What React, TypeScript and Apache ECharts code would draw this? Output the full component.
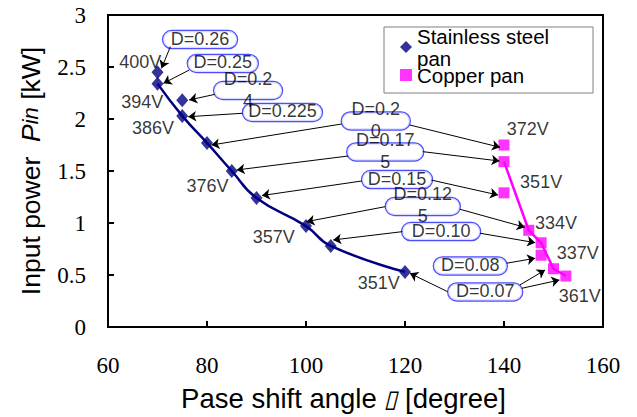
import React, { useEffect, useRef } from "react";
import * as echarts from "echarts";

// ---- data ----
const stainlessAngle = [70, 70, 75, 75, 80, 85, 90, 100, 105, 120];
const stainlessPower = [2.45, 2.34, 2.18, 2.03, 1.77, 1.5, 1.24, 0.97, 0.78, 0.53];
const stainlessCurveIdx = [1, 3, 4, 5, 6, 7, 8, 9];

const copperAngle = [140, 140, 140, 145, 147.5, 147.5, 150, 152.5];
const copperPower = [1.75, 1.59, 1.29, 0.93, 0.81, 0.69, 0.56, 0.49];
const copperCurveIdx = [1, 3, 4, 6, 7];

const voltageText = ["400V", "394V", "386V", "376V", "357V", "351V", "372V", "351V", "334V", "337V", "361V"];
const voltageAngle = [66.5, 66.9, 69.1, 80.1, 93.5, 114.7, 144.8, 147.5, 150.5, 154.9, 155.3];
const voltagePower = [2.548, 2.163, 1.913, 1.356, 0.865, 0.423, 1.904, 1.394, 1.0, 0.712, 0.298];

const dutyText = ["D=0.26", "D=0.25", "D=0.2\n4", "D=0.225", "D=0.2\n0", "D=0.17\n5", "D=0.15", "D=0.12\n5", "D=0.10", "D=0.08", "D=0.07"];
const dutyAngle = [78.6, 83.2, 88.3, 95.25, 114.1, 116, 118.4, 123.6, 127.3, 133.2, 136.2];
const dutyPower = [2.764, 2.534, 2.274, 2.063, 1.981, 1.683, 1.418, 1.159, 0.918, 0.587, 0.337];

const arrowFrom = [
  [72.6, 2.695], [76.4, 2.471], [81.6, 2.237], [87.2, 2.055], [107.2, 1.952], [121, 1.942],
  [108.5, 1.644], [123.6, 1.686], [111.3, 1.404], [125.3, 1.413], [116, 1.157], [131.1, 1.132],
  [119.5, 0.917], [135.2, 0.901], [140.5, 0.613], [128.6, 0.34], [143.2, 0.404], [143.6, 0.372],
];
const arrowTo = [
  [70.8, 2.487], [71.2, 2.343], [76.4, 2.183], [76.2, 2.022], [80.9, 1.75], [139.2, 1.728],
  [86, 1.51], [139.1, 1.596], [91.1, 1.264], [138.8, 1.269], [100.1, 1.013], [144.2, 0.959],
  [105.5, 0.837], [146.3, 0.811], [146.3, 0.661], [121, 0.516], [148.3, 0.548], [151.2, 0.452],
];

const xMin = 60, xMax = 160, xStep = 20;
const yMin = 0, yMax = 3, yStep = 0.5;
const legendNames = ["Stainless steel pan", "Copper pan"];

// ---- layout / style (not data) ----
const dutyBoxWidth = [74, 70, 68, 79, 68, 76, 70, 74, 78, 73, 74];
const SANS = "'Liberation Sans', Arial, sans-serif";
const SERIF = "'Liberation Serif', 'Times New Roman', serif";

export default function App() {
  const ref = useRef<HTMLDivElement>(null);
  useEffect(() => {
    if (!ref.current) return;
    const chart = echarts.init(ref.current, null, { renderer: "svg" });
    const option: any = {
      animation: false,
      backgroundColor: "#fff",
      grid: { left: 108, right: 34, top: 15, bottom: 90, show: true, borderColor: "#000", borderWidth: 2, backgroundColor: "transparent" },
      legend: {
        data: legendNames,
        orient: "vertical",
        left: 400,
        top: 25,
        padding: 0,
        itemGap: -5,
        itemWidth: 12,
        itemHeight: 12,
        selectedMode: false,
        textStyle: { fontSize: 20.5, fontFamily: SANS, color: "#000", lineHeight: 22, width: 150, overflow: "break" },
      },
      graphic: [
        { type: "rect", z: 0, shape: { x: 384, y: 27, width: 209, height: 66 }, style: { fill: "#fff", stroke: "#808080", lineWidth: 1 } },
      ],
      xAxis: {
        type: "value", min: xMin, max: xMax, interval: xStep,
        name: "{a|Pase shift angle }{b|▯}{a| [degree]}",
        nameLocation: "middle", nameGap: 57,
        nameTextStyle: {
          padding: [0, 24, 0, 0],
          rich: {
            a: { fontSize: 27.5, fontFamily: SANS, color: "#000" },
            b: { fontSize: 24, fontFamily: SANS, fontStyle: "italic", color: "#000" },
          },
        },
        axisLine: { show: true, lineStyle: { color: "#000", width: 2 } },
        axisTick: { show: true, inside: true, length: 6, lineStyle: { color: "#000", width: 2 } },
        axisLabel: { fontSize: 23, fontFamily: SERIF, color: "#000", margin: 27 },
        splitLine: { show: false },
      },
      yAxis: {
        type: "value", min: yMin, max: yMax, interval: yStep,
        name: "{a|Input power  }{b|P}{c|in}{a| [kW]}",
        nameLocation: "middle", nameGap: 64, nameRotate: 90,
        nameTextStyle: {
          rich: {
            a: { fontSize: 26.5, fontFamily: SANS, color: "#000" },
            b: { fontSize: 26.5, fontFamily: SANS, fontStyle: "italic", color: "#000" },
            c: { fontSize: 22, fontFamily: SANS, fontStyle: "italic", color: "#000" },
          },
        },
        axisLine: { show: true, lineStyle: { color: "#000", width: 2 } },
        axisTick: { show: true, inside: true, length: 6, lineStyle: { color: "#000", width: 2 } },
        axisLabel: { fontSize: 23, fontFamily: SERIF, color: "#000", margin: 22 },
        splitLine: { show: false },
      },
      series: [
        {
          name: "stainlessCurve", type: "line", smooth: 0.5, symbol: "none", silent: true, z: 2,
          lineStyle: { color: "#000080", width: 2.5 },
          data: stainlessCurveIdx.map((i) => [stainlessAngle[i], stainlessPower[i]]),
          markLine: {
            silent: true, symbol: ["none", "arrow"], symbolSize: 8,
            lineStyle: { color: "#000", width: 1, type: "solid" },
            label: { show: false },
            data: arrowFrom.map((f, i) => [{ coord: f }, { coord: arrowTo[i] }]),
          },
        },
        {
          name: "copperCurve", type: "line", smooth: false, symbol: "none", silent: true, z: 2,
          lineStyle: { color: "#FF00FF", width: 2.5 },
          data: copperCurveIdx.map((i) => [copperAngle[i], copperPower[i]]),
        },
        {
          name: "Stainless steel pan", type: "scatter", symbol: "diamond", symbolSize: [12, 14], z: 3,
          itemStyle: { color: "#000080" },
          data: stainlessAngle.map((x, i) => [x, stainlessPower[i]]),
        },
        {
          name: "Copper pan", type: "scatter", symbol: "rect", symbolSize: 11, z: 3,
          itemStyle: { color: "#FF00FF" },
          data: copperAngle.map((x, i) => [x, copperPower[i]]),
        },
        {
          name: "dutyBoxes", type: "scatter", symbolSize: 0, silent: true, z: 4,
          data: dutyAngle.map((x, i) => ({ value: [x, dutyPower[i]], label: { width: dutyBoxWidth[i] } })),
          label: {
            show: true, position: "inside", formatter: " ", height: 17, padding: 0,
            backgroundColor: "#fff", borderColor: "#2222ff", borderWidth: 1.2, borderRadius: 9,
          },
        },
        {
          name: "dutyTexts", type: "scatter", symbolSize: 0, silent: true, z: 5,
          data: dutyAngle.map((x, i) => ({ value: [x, dutyPower[i]], name: dutyText[i] })),
          label: {
            show: true, position: "inside", formatter: (p: any) => p.name,
            fontSize: 18, lineHeight: 22, color: "#000", fontFamily: SANS, offset: [0, -1],
          },
        },
        {
          name: "voltages", type: "scatter", symbolSize: 0, silent: true, z: 5,
          data: voltageAngle.map((x, i) => ({ value: [x, voltagePower[i]], name: voltageText[i] })),
          label: {
            show: true, position: "inside", formatter: (p: any) => p.name,
            fontSize: 18, color: "#000", fontFamily: SANS,
          },
        },
      ],
    };
    chart.setOption(option);
    return () => chart.dispose();
  }, []);
  return <div ref={ref} style={{ position: "absolute", left: 0, top: 0, width: 637, height: 417 }} />;
}
